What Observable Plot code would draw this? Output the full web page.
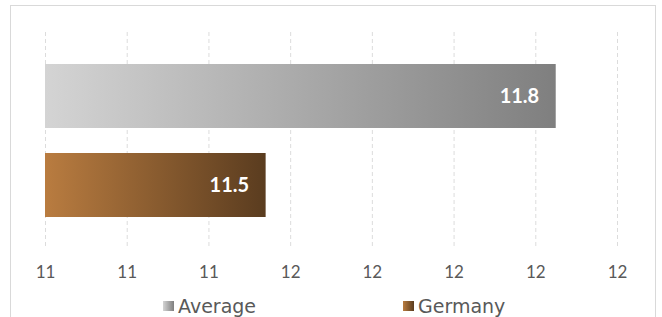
<!DOCTYPE html>
<html>
<head>
<meta charset="utf-8">
<script src="https://cdn.jsdelivr.net/npm/d3@7"></script>
<script src="https://cdn.jsdelivr.net/npm/@observablehq/plot@0.6"></script>
<style>
  html, body { margin: 0; padding: 0; background: #fff; }
  #wrap { position: relative; width: 662px; height: 317px; overflow: hidden; }
  #border { position: absolute; left: 10px; top: 5px; width: 646px; height: 340px; border: 1.5px solid #d9d9d9; box-sizing: border-box; }
  #chart { position: absolute; left: 0; top: 0; }
</style>
</head>
<body>
<div id="wrap"><div id="border"></div><div id="chart"></div></div>
<script>
const categories = ["Average", "Germany"];
const values = [11.825, 11.47];
const tickValues = [11.2, 11.3, 11.4, 11.5, 11.6, 11.7, 11.8, 11.9];
const gradientStarts = ["#d4d4d4", "#b97c40"];
const gradientEnds = ["#7f7f7f", "#5a3c1f"];

const data = categories.map((c, i) => ({category: c, value: values[i], idx: i}));
const font = "Lato, 'Open Sans', sans-serif";
const legendFont = "'DejaVu Sans', sans-serif";

const plot = Plot.plot({
  width: 662,
  height: 317,
  marginLeft: 45,
  marginRight: 45,
  marginTop: 32,
  marginBottom: 69,
  style: {fontFamily: font, background: "transparent"},
  x: {domain: [11.2, 11.9], ticks: tickValues, label: null, axis: null},
  y: {domain: categories, paddingInner: 0.285, paddingOuter: 0.349, axis: null},
  color: {type: "identity"},
  marks: [
    Plot.gridX(tickValues, {stroke: "#dcdcdc", strokeOpacity: 1, strokeDasharray: "4,3"}),
    Plot.axisX(tickValues, {tickSize: 0, tickPadding: 17, tickFormat: d => String(Math.round(d)), fill: "#595959", fontSize: 17, label: null}),
    Plot.barX(data, {x1: 11.2, x2: "value", y: "category", fill: d => `url(#grad-${d.idx})`}),
    Plot.text(data, {x: "value", y: "category", text: d => d3.format(".1f")(d.value), textAnchor: "end", dx: -17, fill: "white", fontWeight: "bold", fontSize: 20})
  ]
});

const svg = d3.select(plot);
const defs = svg.insert("defs", ":first-child");
categories.forEach((c, i) => {
  const g = defs.append("linearGradient").attr("id", `grad-${i}`).attr("x1", "0").attr("x2", "1").attr("y1", "0").attr("y2", "0");
  g.append("stop").attr("offset", "0%").attr("stop-color", gradientStarts[i]);
  g.append("stop").attr("offset", "100%").attr("stop-color", gradientEnds[i]);
});

// legend
const legendX = [163, 403];
const legend = svg.append("g").attr("font-family", legendFont).attr("text-anchor", "start");
categories.forEach((c, i) => {
  legend.append("rect").attr("x", legendX[i]).attr("y", 301).attr("width", 11).attr("height", 10).attr("fill", `url(#grad-${i})`);
  legend.append("text").attr("x", legendX[i] + 15).attr("y", 306).attr("dy", "0.35em")
    .attr("text-anchor", "start").attr("fill", "#595959").attr("font-size", 19).text(c);
});

document.getElementById("chart").appendChild(plot);
</script>
</body>
</html>
